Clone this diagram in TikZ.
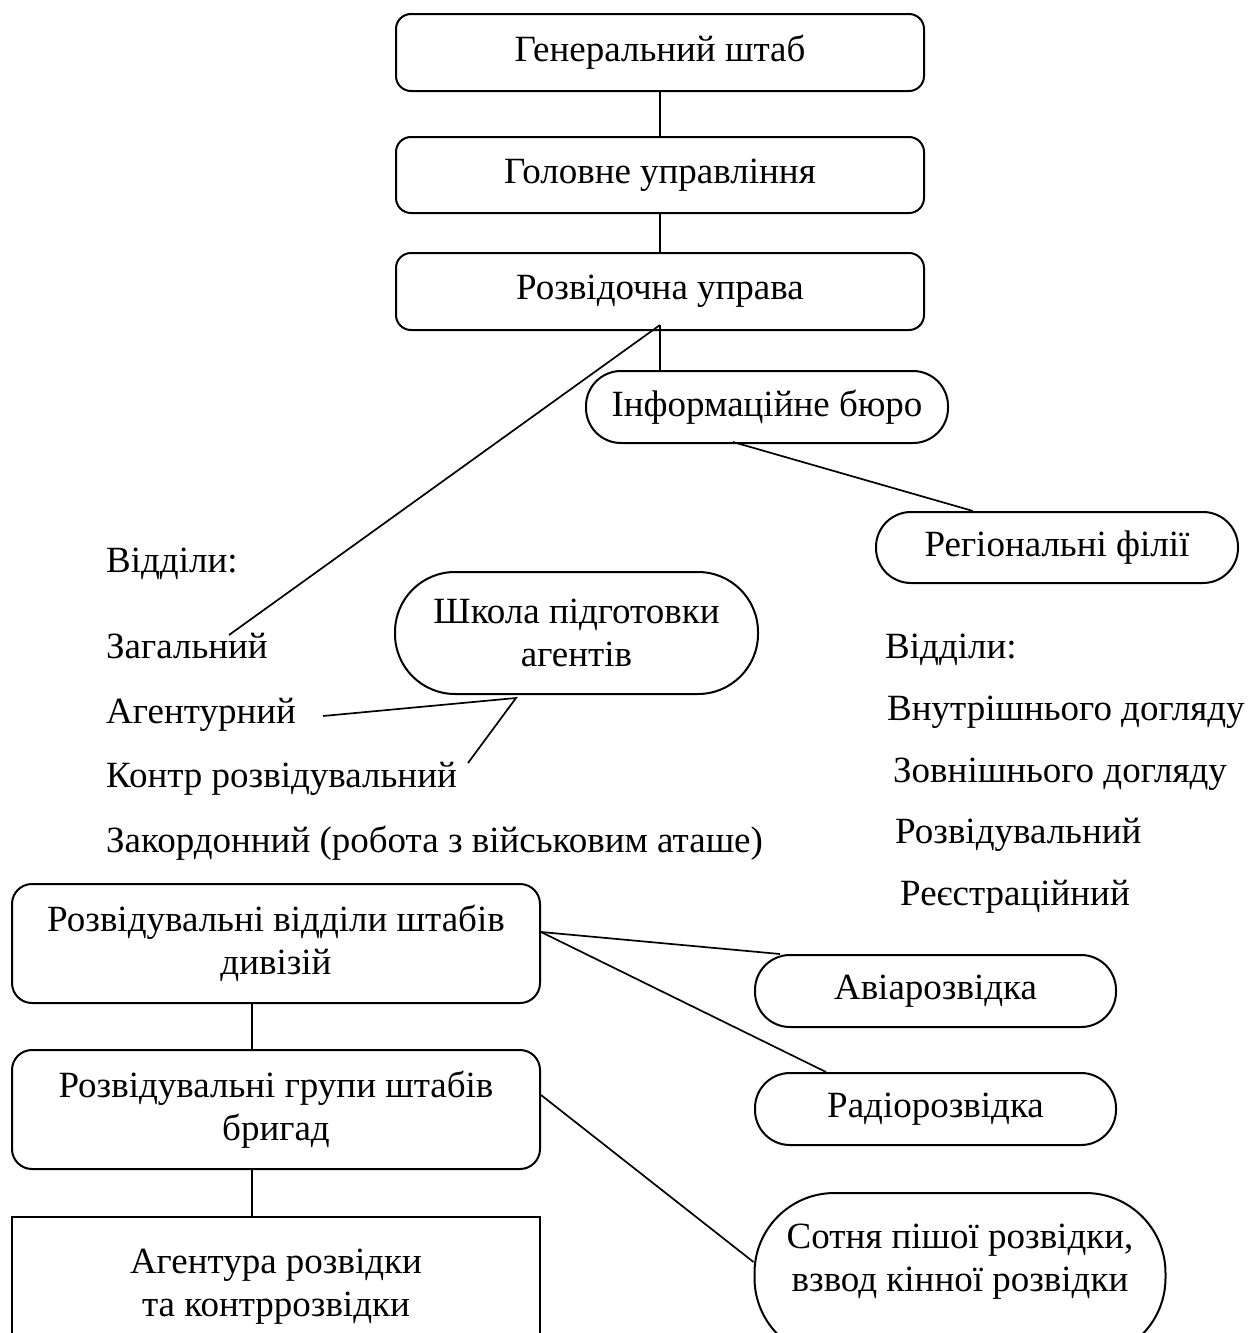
\documentclass[tikz,border=0pt]{standalone}
\usepackage{fontspec}
\setmainfont{Liberation Serif}
\newcommand\bigfs{\fontsize{37}{43}\selectfont}
\begin{document}
\begin{tikzpicture}[x=1pt,y=-1pt,
  box/.style={draw, line width=2pt, rounded corners=15pt, minimum width=528pt, minimum height=77pt, inner sep=0pt, align=center, font=\bigfs},
  stad/.style={draw, line width=2pt, minimum width=362pt, minimum height=72pt, rounded corners=35pt, inner sep=0pt, align=center, font=\bigfs},
  txt/.style={anchor=base west, inner sep=0pt, font=\bigfs},
  link/.style={line width=1.7pt}]
\clip (0,0) rectangle (1252,1333);
\fill[white] (0,0) rectangle (1252,1333);
% top chain
\node[box] (gs) at (660,52.5) {Генеральний штаб};
\node[box, minimum height=76pt] (gu) at (660,175) {Головне управління};
\node[box] (ru) at (660,291.5) {Розвідочна управа};
\node[stad] (ib) at (767,407) {Інформаційне бюро};
\node[stad, minimum height=71pt] (rf) at (1057,547.5) {Регіональні філії};
\node[stad, minimum width=363pt, minimum height=122pt, rounded corners=60pt] (school) at (576.5,633) {Школа підготовки\\агентів};
% left list
\node[txt] (vl) at (106,572) {Відділи:};
\node[txt] (zag) at (106,658) {Загальний};
\node[txt] (agt) at (106,723) {Агентурний};
\node[txt] (kr) at (106,787) {Контр розвідувальний};
\node[txt] (zak) at (106,852) {Закордонний (робота з військовим аташе)};
% right list
\node[txt] (vr) at (885,658) {Відділи:};
\node[txt] (vd) at (887,720) {Внутрішнього догляду};
\node[txt] (zd) at (893,782) {Зовнішнього догляду};
\node[txt] (rz) at (895,843) {Розвідувальний};
\node[txt] (rg) at (900,905) {Реєстраційний};
% bottom part
\node[box, rounded corners=20pt, minimum height=119pt] (dyv) at (276,943.5) {Розвідувальні відділи штабів\\дивізій};
\node[box, rounded corners=20pt, minimum height=119pt] (grp) at (276,1109.5) {Розвідувальні групи штабів\\бригад};
\node[draw, line width=2pt, minimum width=528pt, minimum height=140pt, inner sep=0pt, align=center, font=\bigfs] (agn) at (276,1287) {Агентура розвідки\\та контррозвідки};
\node[stad, minimum width=361pt] (avia) at (935.5,991) {Авіарозвідка};
\node[stad, minimum width=361pt] (radio) at (935.5,1109) {Радіорозвідка};
\node[stad, minimum width=411pt, minimum height=165pt, rounded corners=80pt] (sot) at (960,1275.5) {};
\node[font=\bigfs, align=center, inner sep=0pt] (sott) at (960,1262) {Сотня пішої розвідки,\\взвод кінної розвідки};
% connectors
\draw[link] (gs.south) -- (gu.north);
\draw[link] (gu.south) -- (ru.north);
\coordinate (apex) at ([yshift=6pt]ru.south);
\draw[link] (apex) -- (apex |- ib.north);
\draw[link] (apex) -- ([xshift=123pt, yshift=23pt]zag.base west);
\draw[link] ([xshift=-34pt,yshift=2pt]ib.south) -- ([xshift=-84pt]rf.north);
\coordinate (sapex) at ([xshift=-60.5pt,yshift=-3pt]school.south);
\draw[link] ([xshift=217pt, yshift=7pt]agt.base west) -- (sapex) -- ([xshift=362pt, yshift=24pt]kr.base west);
\draw[link] ([yshift=11.5pt]dyv.east) -- ([xshift=-155.5pt]avia.north);
\draw[link] ([yshift=11.5pt]dyv.east) -- ([xshift=-109.5pt]radio.north);
\draw[link] ([yshift=14.5pt]grp.east) -- ([yshift=13.5pt]sot.west);
\draw[link] ([xshift=-24pt]dyv.south) -- ([xshift=-24pt]grp.north);
\draw[link] ([xshift=-24pt]grp.south) -- ([xshift=-24pt]agn.north);
\end{tikzpicture}
\end{document}
